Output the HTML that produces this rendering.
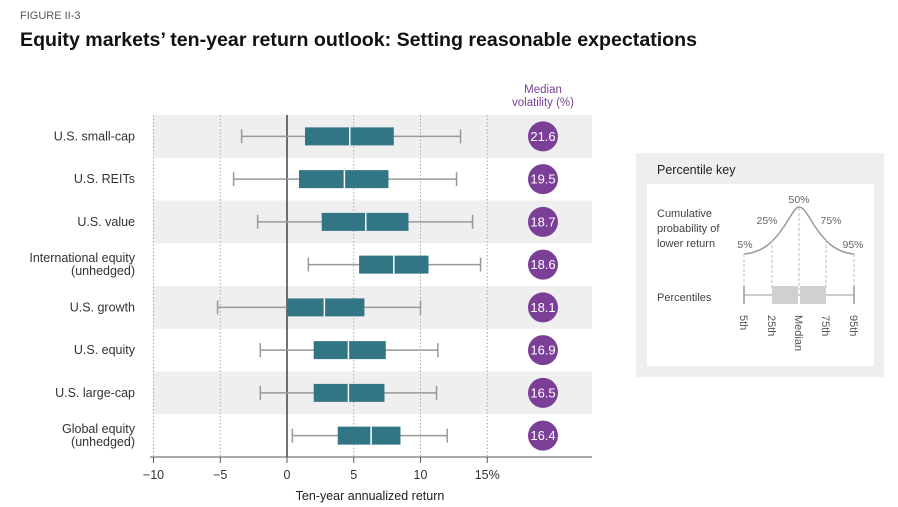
<!DOCTYPE html>
<html><head><meta charset="utf-8"><style>
body{margin:0;background:#fff;font-family:"Liberation Sans",sans-serif;}
svg{display:block}
text{font-family:"Liberation Sans",sans-serif}
</style></head><body>
<svg id="c" width="898" height="507" viewBox="0 0 898 507">
<text x="20" y="19" font-size="11" fill="#555">FIGURE II-3</text>
<text x="20" y="46" font-size="19.6" font-weight="bold" fill="#111" textLength="677">Equity markets’ ten-year return outlook: Setting reasonable expectations</text>
<text x="543" y="93" font-size="11.5" fill="#7b3f98" text-anchor="middle">Median</text>
<text x="543" y="106" font-size="11.5" fill="#7b3f98" text-anchor="middle">volatility (%)</text>
<g id="bands"></g><g id="grid"></g><g id="boxes"></g><g id="axis"></g>
<g>
<rect x="636" y="153" width="248" height="224" fill="#eeeeef"/>
<text x="657" y="174" font-size="12.5" fill="#222">Percentile key</text>
<rect x="647" y="184" width="227" height="182" fill="#fff"/>
<text x="657" y="217" font-size="11" fill="#444">Cumulative</text>
<text x="657" y="232" font-size="11" fill="#444">probability of</text>
<text x="657" y="247" font-size="11" fill="#444">lower return</text>
<text x="657" y="301" font-size="11" fill="#444">Percentiles</text>
<path d="M744,254 C765,252 775,240 785,225 C793,212 796,207 799,207 C803,207 806,212 814,225 C824,240 834,252 854,254" fill="none" stroke="#999" stroke-width="1.5"/>
<g stroke="#bbb" stroke-dasharray="3,2"><line x1="744" y1="254" x2="744" y2="290"/><line x1="772" y1="240" x2="772" y2="290"/><line x1="799" y1="208" x2="799" y2="290"/><line x1="826" y1="240" x2="826" y2="290"/><line x1="854" y1="254" x2="854" y2="290"/></g>
<text x="799" y="203" font-size="10.5" fill="#666" text-anchor="middle">50%</text>
<text x="767" y="224" font-size="10.5" fill="#666" text-anchor="middle">25%</text>
<text x="831" y="224" font-size="10.5" fill="#666" text-anchor="middle">75%</text>
<text x="745" y="248" font-size="10.5" fill="#666" text-anchor="middle">5%</text>
<text x="853" y="248" font-size="10.5" fill="#666" text-anchor="middle">95%</text>
<line x1="744" y1="295" x2="854" y2="295" stroke="#999"/>
<line x1="744" y1="286" x2="744" y2="304" stroke="#999" stroke-width="1.5"/>
<line x1="854" y1="286" x2="854" y2="304" stroke="#999" stroke-width="1.5"/>
<rect x="772" y="286" width="26" height="18" fill="#d0d0d0"/><rect x="800" y="286" width="26" height="18" fill="#d0d0d0"/>
<g font-size="11" fill="#555"><text transform="translate(740,315) rotate(90)">5th</text><text transform="translate(768,315) rotate(90)">25th</text><text transform="translate(795,315) rotate(90)">Median</text><text transform="translate(822,315) rotate(90)">75th</text><text transform="translate(850,315) rotate(90)">95th</text></g>
</g>
</svg>
<script>
const categories=["U.S. small-cap","U.S. REITs","U.S. value","International equity|(unhedged)","U.S. growth","U.S. equity","U.S. large-cap","Global equity|(unhedged)"];
const p5=[-3.4,-4.0,-2.2,1.6,-5.2,-2.0,-2.0,0.4];
const p25=[1.35,0.9,2.6,5.4,0,2.0,2.0,3.8];
const median=[4.7,4.3,5.9,8.0,2.8,4.6,4.6,6.3];
const p75=[8.0,7.6,9.1,10.6,5.8,7.4,7.3,8.5];
const p95=[13.0,12.7,13.9,14.5,10.0,11.3,11.2,12.0];
const volatility=["21.6","19.5","18.7","18.6","18.1","16.9","16.5","16.4"];
const ticks=[-10,-5,0,5,10,15];
const tickLabels=["\u221210","\u22125","0","5","10","15%"];
const NS="http://www.w3.org/2000/svg";
const X=v=>287+v*13.35;
const rowH=42.75, top0=115;
const Y=i=>top0+rowH*i+rowH/2;
function mk(tag,attrs,parent,txt){const e=document.createElementNS(NS,tag);for(const k in attrs)e.setAttribute(k,attrs[k]);if(txt!=null)e.textContent=txt;document.getElementById(parent).appendChild(e);return e;}
categories.forEach((c,i)=>{
  if(i%2==0){const b=mk('rect',{x:153,y:top0+rowH*i,width:439,height:rowH,fill:'#efefef'},'bands');
  
  }
  const parts=c.split('|');
  parts.forEach((p,j)=>{const t=mk('text',{x:135,y:Y(i)+4+(j-(parts.length-1)/2)*13,'font-size':12.5,fill:'#333','text-anchor':'end'},'bands',p);
  
  });
});
ticks.forEach((t,i)=>{
  if(t!==0){const g=mk('line',{x1:X(t),x2:X(t),y1:top0,y2:457,stroke:'#aaa','stroke-dasharray':'1.5,2'},'grid');
  
  }
  const tk=mk('line',{x1:X(t),x2:X(t),y1:457,y2:463,stroke:'#555'},'axis');
  
  
  const l=mk('text',{x:X(t),y:479,'font-size':12.5,fill:'#333','text-anchor':'middle'},'axis',tickLabels[i]);
  
  
});
mk('line',{x1:X(0),x2:X(0),y1:top0,y2:457,stroke:'#444','stroke-width':1.5},'grid');
const ax=mk('line',{x1:150,x2:592,y1:457,y2:457,stroke:'#555'},'axis');


const at=mk('text',{x:370,y:500,'font-size':12.5,fill:'#222','text-anchor':'middle'},'axis','Ten-year annualized return');


categories.forEach((c,i)=>{
  const y=Y(i);
  const g=mk('g',{},'boxes');
  
  
  const add=(tag,a)=>{const e=document.createElementNS(NS,tag);for(const k in a)e.setAttribute(k,a[k]);g.appendChild(e);return e;};
  add('line',{x1:X(p5[i]),x2:X(p95[i]),y1:y,y2:y,stroke:'#999','stroke-width':1.5});
  add('line',{x1:X(p5[i]),x2:X(p5[i]),y1:y-7,y2:y+7,stroke:'#999','stroke-width':1.5});
  add('line',{x1:X(p95[i]),x2:X(p95[i]),y1:y-7,y2:y+7,stroke:'#999','stroke-width':1.5});
  add('rect',{x:X(p25[i]),y:y-9,width:X(p75[i])-X(p25[i]),height:18,fill:'#327585'});
  add('line',{x1:X(median[i]),x2:X(median[i]),y1:y-9,y2:y+9,stroke:'#fff','stroke-width':1.5});
  add('circle',{cx:543,cy:y,r:15,fill:'#7b3f98'});
  const t=add('text',{x:543,y:y+4.5,'font-size':13,fill:'#fff','text-anchor':'middle'});t.textContent=volatility[i];
});
</script>
</body></html>
